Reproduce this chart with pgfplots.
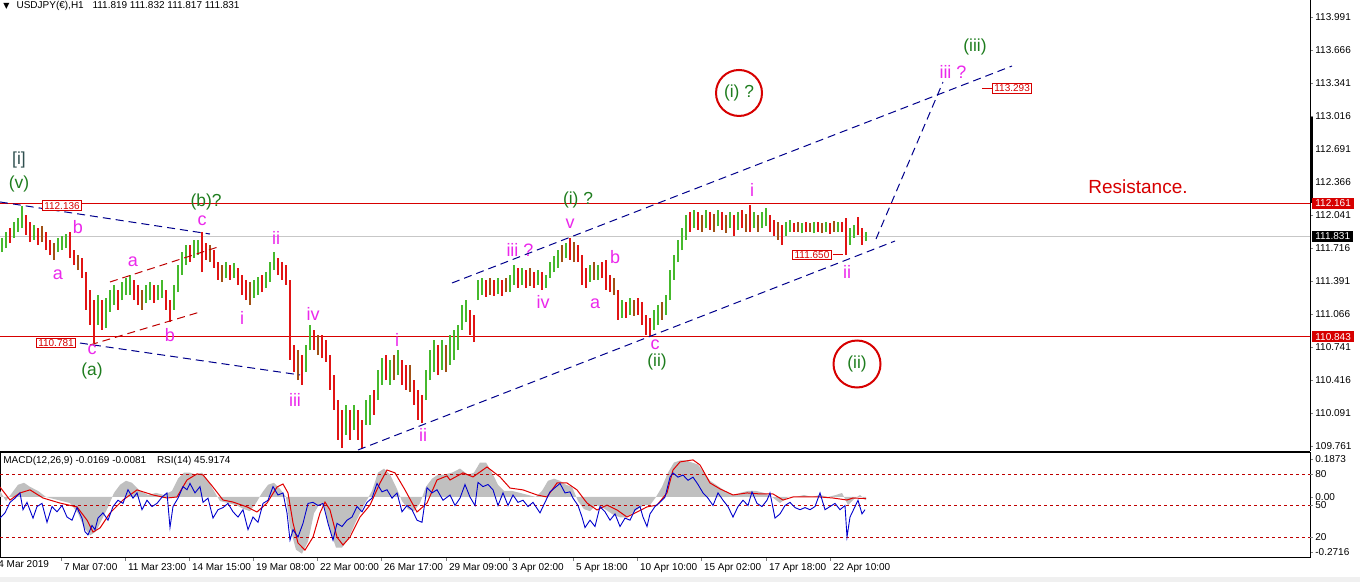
\documentclass[border=0pt]{standalone}
\usepackage{fontspec}
\setmainfont{Liberation Sans}
\newfontfamily\djv{DejaVu Sans}
\usepackage{pgfplots}
\pgfplotsset{compat=1.18}
\usepackage{pgfplotstable}
\definecolor{cgreen}{RGB}{70,185,45}
\definecolor{cred}{RGB}{225,20,20}
\definecolor{cbrown}{RGB}{160,80,20}
\definecolor{mag}{RGB}{235,40,235}
\definecolor{wgreen}{RGB}{30,125,30}
\definecolor{slate}{RGB}{47,79,79}
\definecolor{lred}{RGB}{215,0,0}
\definecolor{navy}{RGB}{0,0,140}
\definecolor{hgray}{RGB}{192,192,192}
\definecolor{sigred}{RGB}{225,0,0}
\definecolor{rsiblue}{RGB}{0,0,205}
\definecolor{dred}{RGB}{190,0,0}
\pgfplotsset{
  hlbar/.style={quiver={u=0, v=\thisrow{hi}-\thisrow{lo}}, mark=none, line width=1.15pt, line cap=butt},
}
\newcommand\tk{\fontsize{5}{6}\selectfont}
\newcommand\wl{\fontsize{9}{10}\selectfont}
\newcommand\gl{\fontsize{8.7}{10}\selectfont}

% up bars (green)
\pgfplotstableread{
x lo hi
2 111.678 111.817
6 111.718 111.876
14 111.817 111.974
18 111.876 112.014
22 111.915 112.133
34 111.797 111.945
58 111.678 111.817
62 111.698 111.837
66 111.718 111.857
98 110.959 111.255
106 110.929 111.225
110 111.087 111.304
114 111.156 111.354
122 111.205 111.383
126 111.255 111.422
130 111.255 111.452
146 111.175 111.354
150 111.205 111.383
158 111.205 111.354
162 111.225 111.403
174 111.107 111.354
178 111.284 111.551
182 111.452 111.678
186 111.551 111.748
194 111.619 111.797
198 111.649 111.797
226 111.422 111.580
234 111.422 111.570
254 111.225 111.403
258 111.255 111.432
266 111.324 111.481
270 111.383 111.580
274 111.501 111.678
306 110.495 110.762
310 110.712 110.959
346 109.874 110.170
354 109.923 110.170
366 109.973 110.219
370 109.973 110.269
378 110.219 110.515
382 110.367 110.633
390 110.367 110.614
398 110.466 110.712
426 110.219 110.515
430 110.416 110.712
434 110.495 110.811
442 110.515 110.811
450 110.565 110.861
454 110.614 110.910
458 110.712 110.959
462 110.910 111.156
466 110.988 111.205
478 111.205 111.403
482 111.255 111.422
498 111.265 111.422
510 111.284 111.452
514 111.354 111.551
522 111.354 111.521
538 111.354 111.501
546 111.324 111.452
550 111.422 111.580
554 111.481 111.639
558 111.521 111.698
566 111.619 111.767
590 111.383 111.551
598 111.403 111.551
622 111.028 111.205
630 111.058 111.225
654 110.910 111.107
658 110.959 111.156
666 111.058 111.255
670 111.205 111.501
674 111.403 111.649
678 111.580 111.797
682 111.698 111.915
686 111.797 112.044
694 111.915 112.093
706 111.915 112.093
718 111.935 112.093
730 111.915 112.073
738 111.896 112.073
754 111.915 112.073
762 111.915 112.073
766 111.935 112.113
786 111.837 111.974
790 111.876 111.994
802 111.866 111.964
814 111.866 111.974
826 111.876 111.974
838 111.876 111.974
850 111.748 111.915
854 111.817 111.945
866 111.787 111.876
}\upbars

% down bars (red)
\pgfplotstableread{
x lo hi
10 111.767 111.915
26 111.847 112.044
30 111.777 111.974
38 111.748 111.915
46 111.698 111.876
50 111.649 111.797
70 111.619 111.876
74 111.551 111.698
82 111.422 111.619
86 111.107 111.481
90 110.959 111.304
94 110.781 111.205
102 110.910 111.205
118 111.107 111.304
134 111.205 111.403
138 111.156 111.354
154 111.175 111.354
166 111.107 111.304
170 110.988 111.205
190 111.580 111.748
202 111.481 111.876
206 111.600 111.767
214 111.521 111.698
218 111.403 111.580
230 111.403 111.551
238 111.354 111.521
242 111.255 111.452
246 111.205 111.403
262 111.284 111.452
278 111.452 111.619
282 111.403 111.580
286 111.354 111.551
290 110.614 111.403
294 110.495 110.762
302 110.367 110.663
314 110.712 110.910
322 110.633 110.861
326 110.594 110.811
330 110.318 110.663
334 110.121 110.466
338 109.825 110.219
342 109.746 110.121
350 109.825 110.121
358 109.825 110.121
362 109.746 110.022
374 110.072 110.318
386 110.416 110.663
402 110.367 110.614
406 110.318 110.565
414 110.170 110.416
418 110.022 110.318
422 109.992 110.269
438 110.466 110.762
470 110.861 111.107
474 110.791 111.058
486 111.235 111.403
494 111.245 111.403
502 111.245 111.403
518 111.324 111.521
526 111.324 111.501
534 111.324 111.481
542 111.304 111.481
570 111.600 111.817
578 111.580 111.748
582 111.354 111.649
586 111.324 111.521
602 111.422 111.580
606 111.304 111.600
610 111.284 111.452
618 111.008 111.304
626 111.028 111.185
638 111.058 111.225
642 110.959 111.185
646 110.861 111.058
650 110.841 111.028
690 111.876 112.073
698 111.896 112.073
710 111.896 112.073
722 111.896 112.073
734 111.837 112.044
742 111.915 112.093
750 111.876 112.143
770 111.876 112.044
774 111.837 111.994
782 111.748 111.945
794 111.876 111.964
806 111.876 111.974
818 111.876 111.974
830 111.857 111.964
842 111.876 111.974
846 111.649 112.014
858 111.847 112.024
862 111.748 111.915
}\dnbars

% mixed bars (brown)
\pgfplotstableread{
x lo hi
42 111.777 111.935
54 111.600 111.767
78 111.501 111.649
142 111.107 111.304
210 111.580 111.748
222 111.383 111.551
250 111.156 111.383
298 110.416 110.712
318 110.663 110.861
394 110.416 110.663
410 110.298 110.565
446 110.495 110.762
490 111.255 111.422
506 111.284 111.422
530 111.344 111.521
562 111.580 111.748
574 111.580 111.777
594 111.403 111.580
614 111.255 111.422
634 111.048 111.205
662 111.008 111.185
702 111.876 112.044
714 111.876 112.054
726 111.866 112.044
746 111.876 112.054
758 111.876 112.044
778 111.797 111.974
798 111.876 111.974
810 111.876 111.964
822 111.866 111.964
834 111.876 111.984
}\brbars

\pgfplotstableread{
x m
0 0.03
6 -0.02
12 0.02
18 0.06
24 0.07
30 0.05
38 0.03
46 0.00
54 -0.01
62 -0.02
70 -0.03
78 -0.08
84 -0.15
90 -0.19
96 -0.17
102 -0.11
108 -0.05
114 0.02
120 0.06
126 0.08
132 0.07
140 0.03
148 0.01
156 0.02
164 0.01
172 0.03
178 0.09
184 0.12
190 0.12
196 0.11
202 0.12
208 0.08
214 0.03
220 -0.02
228 -0.03
236 -0.04
244 -0.06
250 -0.07
256 -0.03
262 0.02
268 0.06
274 0.07
280 0.04
286 0.00
290 -0.15
296 -0.26
302 -0.28
308 -0.22
314 -0.08
320 -0.03
324 -0.05
330 -0.16
336 -0.25
342 -0.25
348 -0.21
356 -0.12
364 -0.04
372 0.03
378 0.12
384 0.14
390 0.11
396 0.05
402 -0.02
408 -0.06
414 -0.07
420 -0.03
426 0.05
432 0.09
438 0.11
444 0.11
452 0.12
460 0.14
468 0.11
474 0.12
480 0.17
486 0.17
492 0.12
498 0.06
504 0.03
512 0.03
520 0.02
528 0.01
536 0.00
542 0.03
548 0.08
554 0.09
560 0.08
566 0.06
572 0.05
578 -0.02
584 -0.06
590 -0.07
596 -0.04
602 -0.05
608 -0.07
614 -0.09
620 -0.10
626 -0.10
632 -0.08
638 -0.06
644 -0.04
650 -0.04
656 0.00
662 0.05
668 0.12
674 0.17
680 0.18
686 0.18
692 0.17
698 0.16
704 0.12
710 0.08
716 0.06
722 0.04
728 0.02
734 0.01
740 0.02
748 0.03
756 0.03
764 0.02
772 0.00
780 -0.03
788 0.00
796 0.00
804 0.01
812 0.00
820 0.01
828 0.00
836 0.01
842 0.02
848 -0.04
854 -0.01
860 0.01
866 -0.017
}\macd

\pgfplotstableread{
x s
0 0.049
10 -0.015
20 0.020
30 0.035
43 -0.005
60 -0.030
77 -0.049
87 -0.114
93 -0.173
100 -0.153
110 -0.079
123 -0.015
137 0.035
153 0.010
167 -0.005
177 0.000
187 0.084
197 0.114
203 0.109
213 0.049
223 -0.015
233 -0.025
247 -0.049
257 -0.074
267 -0.030
277 0.049
283 0.064
288 0.020
293 -0.128
298 -0.227
305 -0.262
313 -0.198
320 -0.079
325 -0.025
330 -0.064
337 -0.198
343 -0.237
350 -0.198
360 -0.099
370 -0.040
380 0.069
387 0.133
395 0.119
405 0.035
417 -0.074
427 -0.030
437 0.084
447 0.104
450 0.084
463 0.119
473 0.099
487 0.148
500 0.099
510 0.044
523 0.035
537 0.010
547 0.000
557 0.069
567 0.069
577 0.035
587 -0.030
597 -0.064
607 -0.040
617 -0.064
627 -0.099
637 -0.074
647 -0.049
657 -0.040
667 0.020
673 0.133
680 0.173
693 0.183
700 0.158
710 0.069
720 0.040
733 0.010
747 0.020
760 0.015
773 0.015
783 -0.015
793 0.000
807 0.000
820 0.000
833 -0.005
847 -0.015
853 -0.005
866 -0.008
}\signal

\pgfplotstableread{
x r
0 38
5 43
10 53
15 57
20 62
23 46
27 53
33 38
37 49
42 52
47 34
52 49
57 44
62 50
67 39
72 36
77 48
82 38
85 25
88 22
92 31
95 27
98 38
103 43
108 36
113 49
118 55
123 52
128 65
133 57
137 62
142 46
147 55
152 49
157 52
162 58
167 62
170 29
173 49
178 57
183 68
187 65
190 71
195 62
200 68
203 53
208 57
213 38
218 46
223 48
228 52
233 44
238 39
243 46
248 27
253 39
258 34
263 52
268 55
273 68
278 60
283 62
287 43
290 17
293 27
298 20
303 33
308 52
313 53
318 50
323 52
328 33
333 17
337 33
342 30
347 36
352 39
357 49
362 44
367 53
372 57
377 71
382 63
387 65
392 57
397 62
402 44
407 50
412 46
417 36
422 34
427 67
432 62
437 65
443 55
450 60
455 50
460 57
465 70
470 58
475 50
478 72
483 68
488 70
493 65
498 50
503 62
508 50
513 60
518 53
523 55
528 49
533 53
540 43
545 53
550 63
555 67
560 71
565 62
570 63
573 57
578 50
582 39
585 29
590 36
595 30
600 49
605 44
610 36
615 42
620 30
625 38
630 36
635 46
640 49
643 39
647 30
650 42
655 49
660 53
665 58
670 77
673 81
678 77
683 79
688 74
693 77
698 70
703 62
708 57
713 50
718 62
723 55
728 49
733 39
738 49
743 55
748 50
752 63
757 52
762 49
767 55
770 62
775 38
780 42
785 50
790 53
795 48
800 46
805 48
810 46
815 49
820 62
825 46
830 49
835 52
840 46
845 50
847 20
850 39
855 49
858 55
862 42
865 46
}\rsi

\begin{document}
\begin{tikzpicture}
\fill[white] (0,0) rectangle (680pt,-291pt);
\fill[black!6] (0,-288.5pt) rectangle (680pt,-291pt);
% ---------------- main price panel ----------------
\begin{axis}[
  at={(0pt,0pt)}, anchor=north west,
  width=655pt, height=225.5pt, scale only axis,
  xmin=0, xmax=1310, ymin=109.716, ymax=114.164,
  axis x line*=bottom, axis y line*=right,
  axis line style={line width=0.5pt},
  xtick=\empty,
  ytick={109.761,110.091,110.416,110.741,111.066,111.391,111.716,112.041,112.366,112.691,113.016,113.341,113.666,113.991},
  yticklabels={109.761,110.091,110.416,110.741,111.066,111.391,111.716,112.041,112.366,112.691,113.016,113.341,113.666,113.991},
  tick align=outside, major tick length=1.5pt,
  yticklabel style={font=\tk, inner sep=1pt},
  clip=false,
]
% horizontal levels
\addplot[lred, line width=0.5pt] coordinates {(0,112.161) (1310,112.161)};
\addplot[lred, line width=0.5pt] coordinates {(0,110.843) (1310,110.843)};
\addplot[black!22, line width=0.5pt] coordinates {(0,111.831) (1310,111.831)};
% price bars (high-low of each period)
\addplot[hlbar, cgreen] table[x=x, y=lo] {\upbars};
\addplot[hlbar, cred] table[x=x, y=lo] {\dnbars};
\addplot[hlbar, cbrown] table[x=x, y=lo] {\brbars};
% trend lines
\addplot[navy, line width=0.5pt, dash pattern=on 4pt off 2.5pt] coordinates {(0,112.172) (210,111.856)};
\addplot[navy, line width=0.5pt, dash pattern=on 4pt off 2.5pt] coordinates {(80,110.781) (300,110.466)};
\addplot[dred, line width=0.5pt, dash pattern=on 4pt off 2.5pt] coordinates {(110,111.383) (218,111.728)};
\addplot[dred, line width=0.5pt, dash pattern=on 4pt off 2.5pt] coordinates {(90,110.762) (200,111.087)};
\addplot[navy, line width=0.5pt, dash pattern=on 4pt off 2.5pt] coordinates {(358,109.726) (895,111.787)};
\addplot[navy, line width=0.5pt, dash pattern=on 4pt off 2.5pt] coordinates {(452,111.373) (1012,113.513)};
\addplot[navy, line width=0.5pt, dash pattern=on 4pt off 2.5pt] coordinates {(876,111.807) (943,113.355)};
% right axis marker
\draw[black, line width=1.2pt] (axis cs:1311.5,113.01) -- (axis cs:1311.5,112.16);
% price boxes on the axis
\node[fill=lred, text=white, font=\tk, anchor=west, inner xsep=1.5pt, inner ysep=1pt] at (axis cs:1312,112.161) {112.161};
\node[fill=black, text=white, font=\tk, anchor=west, inner xsep=1.5pt, inner ysep=1pt] at (axis cs:1312,111.831) {111.831};
\node[fill=lred, text=white, font=\tk, anchor=west, inner xsep=1.5pt, inner ysep=1pt] at (axis cs:1312,110.843) {110.843};
% price tags in chart
\node[draw=lred, fill=white, text=lred, font=\tk, inner xsep=1pt, inner ysep=0.6pt, line width=0.4pt] at (axis cs:62,112.136) {112.136};
\node[draw=lred, fill=white, text=lred, font=\tk, inner xsep=1pt, inner ysep=0.6pt, line width=0.4pt] at (axis cs:56,110.781) {110.781};
\draw[lred, line width=0.5pt] (axis cs:833,111.650) -- (axis cs:843,111.650);
\node[draw=lred, fill=white, text=lred, font=\tk, inner xsep=1pt, inner ysep=0.6pt, line width=0.4pt] at (axis cs:812,111.650) {111.650};
\draw[lred, line width=0.5pt] (axis cs:982,113.293) -- (axis cs:992,113.293);
\node[draw=lred, fill=white, text=lred, font=\tk, inner xsep=1pt, inner ysep=0.6pt, line width=0.4pt, anchor=west] at (axis cs:992,113.293) {113.293};
% title
\node[anchor=west, font=\tk, inner sep=0pt] at (axis cs:3,114.105) {{\djv\fontsize{4}{5}\selectfont ▼}\hspace{3.5pt}USDJPY(€),H1\hspace{3pt} 111.819 111.832 111.817 111.831};
% magenta wave labels
\begin{scope}[every node/.style={text=mag, font=\wl, inner sep=0pt}]
\node at (axis cs:78,111.925) {b};
\node at (axis cs:58,111.452) {a};
\node at (axis cs:202,111.990) {c};
\node at (axis cs:133,111.580) {a};
\node at (axis cs:170,110.860) {b};
\node at (axis cs:92,110.712) {c};
\node at (axis cs:242,111.028) {i};
\node at (axis cs:276,111.817) {ii};
\node at (axis cs:295,110.219) {iii};
\node at (axis cs:313,111.067) {iv};
\node at (axis cs:397,110.811) {i};
\node at (axis cs:423,109.874) {ii};
\node at (axis cs:520,111.700) {iii ?};
\node at (axis cs:543,111.190) {iv};
\node at (axis cs:570,111.960) {v};
\node at (axis cs:615,111.629) {b};
\node at (axis cs:595,111.166) {a};
\node at (axis cs:655,110.762) {c};
\node at (axis cs:752,112.290) {i};
\node at (axis cs:847,111.485) {ii};
\node at (axis cs:953,113.454) {iii ?};
\end{scope}
% green wave labels
\begin{scope}[every node/.style={text=wgreen, font=\gl, inner sep=0pt}]
\node[text=slate] at (axis cs:19,112.586) {[i]};
\node at (axis cs:19,112.349) {(v)};
\node at (axis cs:206,112.175) {(b)?};
\node at (axis cs:92,110.505) {(a)};
\node at (axis cs:578,112.195) {(i) ?};
\node at (axis cs:657,110.594) {(ii)};
\node at (axis cs:975,113.700) {(iii)};
\end{scope}
\node[draw=lred, line width=1pt, circle, minimum size=23pt, inner sep=0pt, text=wgreen, font=\gl] at (axis cs:739,113.247) {(i) ?};
\node[draw=lred, line width=1pt, circle, minimum size=23.5pt, inner sep=0pt, text=wgreen, font=\gl] at (axis cs:857,110.574) {(ii)};
\node[text=lred, font=\fontsize{9.5}{11}\selectfont, inner sep=0pt] at (axis cs:1138,112.320) {Resistance.};
\end{axis}

% ---------------- MACD panel ----------------
\begin{axis}[
  at={(0pt,-226.5pt)}, anchor=north west,
  width=655pt, height=52.5pt, scale only axis,
  xmin=0, xmax=1310, ymin=-0.301, ymax=0.217,
  axis line style={line width=0.5pt},
  xtick={61,125,189,253,317,381,446,509,573,637,701,766,830},
  xticklabels={7 Mar 07:00,11 Mar 23:00,14 Mar 15:00,19 Mar 08:00,22 Mar 00:00,26 Mar 17:00,29 Mar 09:00,3 Apr 02:00,5 Apr 18:00,10 Apr 10:00,15 Apr 02:00,17 Apr 18:00,22 Apr 10:00},
  xticklabel style={font=\tk, anchor=north west, inner sep=1pt, xshift=0.3pt},
  xtick pos=bottom, ytick pos=right, yticklabel pos=right,
  ytick={-0.2716,0,0.1873}, yticklabels={-0.2716,0.00,0.1873},
  yticklabel style={font=\tk, inner sep=1pt},
  tick align=outside, major tick length=1.5pt,
  clip=false,
]
\addplot[fill=hgray, draw=none] table[x=x, y=m] {\macd} \closedcycle;
\addplot[sigred, line width=0.5pt] table[x=x, y=s] {\signal};
\node[anchor=north west, font=\tk, inner sep=1pt] at (axis cs:-4,-0.301) {4 Mar 2019};
\end{axis}

% ---------------- RSI overlay ----------------
\begin{axis}[
  at={(0pt,-226.5pt)}, anchor=north west,
  width=655pt, height=52.5pt, scale only axis,
  xmin=0, xmax=1310, ymin=0, ymax=100,
  axis x line=none, axis y line*=right,
  y axis line style={draw=none},
  ytick={20,50,80}, yticklabels={20,50,80},
  yticklabel style={font=\tk, inner sep=1pt},
  tick align=outside, major tick length=1.5pt,
  clip=false,
]
\addplot[dred, line width=0.5pt, dash pattern=on 1.5pt off 1.5pt] coordinates {(0,80) (1310,80)};
\addplot[dred, line width=0.5pt, dash pattern=on 1.5pt off 1.5pt] coordinates {(0,50) (1310,50)};
\addplot[dred, line width=0.5pt, dash pattern=on 1.5pt off 1.5pt] coordinates {(0,20) (1310,20)};
\addplot[rsiblue, line width=0.45pt] table[x=x, y=r] {\rsi};
\node[anchor=west, font=\tk, inner sep=0pt] at (axis cs:3,92.4) {MACD(12,26,9) -0.0169 -0.0081\hspace{4pt} RSI(14) 45.9174};
\end{axis}
\pgfresetboundingbox
\path[use as bounding box] (0,0) rectangle (680pt,-291pt);
\end{tikzpicture}
\end{document}
